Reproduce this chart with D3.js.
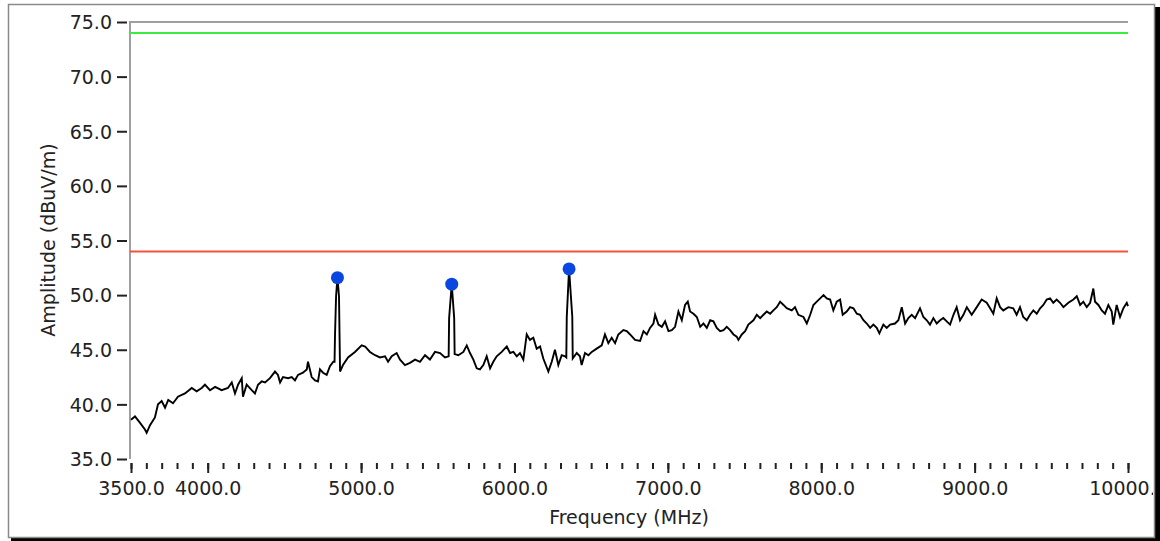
<!DOCTYPE html>
<html>
<head>
<meta charset="utf-8">
<script src="https://cdn.jsdelivr.net/npm/d3@7"></script>
<style>
  html, body { margin: 0; padding: 0; background: #ffffff; }
  svg { display: block; }
  text { font-family: "DejaVu Sans", Verdana, sans-serif; fill: #222; }
</style>
</head>
<body>
<svg id="chart" width="1160" height="541"></svg>
<script>
// Swept emission scan: frequency (MHz) and measured amplitude (dBuV/m)
const freqMHz = [
  3500,3526,3559,3591,3602,3624,3656,3676,3700,3722,3743,3774,3806,3852,3896,3928,3961,3982,
  4015,4048,4091,4132,4157,4178,4198,4222,4230,4254,4287,4308,4328,4352,4374,4406,4439,4458,
  4472,4491,4524,4548,4569,4589,4621,4646,4654,4678,4700,4719,4732,4752,4776,4797,4819,4827,
  4830,4837,4846,4856,4863,4882,4915,4960,5004,5026,5058,5091,5123,5156,5176,5200,5232,5254,
  5286,5319,5352,5384,5417,5449,5482,5515,5547,5571,5574,5591,5607,5610,5634,5667,5689,5710,
  5732,5754,5775,5797,5819,5841,5862,5884,5917,5950,5971,5993,6015,6036,6058,6080,6101,6123,
  6145,6167,6188,6221,6243,6264,6286,6308,6330,6338,6341,6356,6377,6380,6406,6427,6438,6460,
  6482,6504,6536,6569,6590,6612,6634,6656,6677,6710,6732,6754,6786,6819,6841,6863,6884,6906,
  6917,6939,6961,6982,7004,7026,7047,7069,7091,7112,7130,7145,7167,7189,7211,7232,7254,7276,
  7297,7319,7341,7363,7384,7406,7428,7449,7460,7482,7504,7525,7558,7580,7602,7623,7645,7667,
  7688,7710,7732,7754,7775,7808,7829,7851,7884,7906,7928,7949,7971,7993,8015,8036,8058,8079,
  8101,8123,8140,8166,8188,8210,8232,8253,8275,8297,8319,8340,8362,8379,8405,8427,8449,8481,
  8503,8525,8547,8568,8590,8612,8644,8666,8688,8709,8731,8753,8775,8796,8818,8840,8862,8883,
  8905,8927,8949,8981,9014,9046,9079,9101,9122,9144,9166,9187,9220,9252,9274,9296,9317,9340,
  9361,9383,9405,9427,9448,9470,9492,9513,9535,9557,9579,9611,9644,9666,9688,9709,9731,9753,
  9774,9785,9807,9829,9850,9872,9894,9904,9926,9948,9970,9992,10000
];
const amplitude = [
  38.6,38.9,38.3,37.7,37.4,38.1,38.8,40.0,40.3,39.7,40.4,40.1,40.7,41.0,41.5,41.2,41.5,41.8,
  41.3,41.6,41.3,41.5,42.0,41.0,41.8,42.4,40.7,41.8,41.3,41.0,41.8,42.1,42.0,42.4,43.0,42.7,
  42.0,42.5,42.4,42.5,42.2,42.7,42.9,43.2,43.9,42.5,42.2,42.1,43.2,42.9,42.7,43.5,43.9,43.9,
  46.3,49.9,51.6,49.9,43.0,43.6,44.3,44.8,45.4,45.3,44.8,44.5,44.3,44.4,43.9,44.4,44.7,44.1,
  43.6,43.8,44.1,43.9,44.5,44.1,44.8,44.7,44.3,44.4,47.9,51.0,47.9,44.6,44.5,44.8,45.4,44.7,
  44.1,43.3,43.2,43.6,44.4,43.3,43.9,44.4,44.8,45.3,44.7,44.8,44.4,44.7,44.1,46.4,45.9,46.1,
  45.1,45.3,44.2,43.0,43.9,45.0,43.6,44.5,44.4,44.3,48.0,52.4,48.0,44.2,44.7,44.4,43.6,44.7,
  44.5,44.8,45.1,45.4,46.4,45.6,46.1,45.6,46.4,46.8,46.7,46.4,45.9,45.8,46.7,46.4,47.0,47.4,
  48.2,47.3,47.1,47.6,46.7,46.8,47.1,48.5,47.7,49.1,49.4,48.5,48.3,48.0,47.1,47.4,47.0,47.7,
  47.6,47.0,46.7,46.8,47.1,46.8,46.4,46.2,45.9,46.4,46.7,47.3,47.7,48.2,47.9,48.2,48.5,48.3,
  48.6,48.9,49.4,49.1,48.8,48.6,48.9,48.2,48.0,47.4,48.2,49.1,49.4,49.7,50.0,49.7,49.6,48.6,
  49.4,49.6,48.2,48.5,48.9,48.8,48.3,48.2,47.7,47.4,47.0,47.3,47.0,46.5,47.3,47.0,47.3,47.4,
  47.7,48.9,47.4,47.9,48.2,47.9,48.8,48.0,47.7,47.3,47.9,47.4,47.7,47.9,47.6,47.3,48.2,48.9,
  47.7,48.2,48.9,48.2,48.9,49.6,49.3,48.8,48.3,49.7,48.9,48.6,48.9,48.8,48.2,48.9,48.0,47.7,
  48.2,48.6,48.3,48.8,49.1,49.6,49.7,49.3,49.6,49.3,48.9,49.3,49.6,49.9,49.1,49.4,48.9,49.3,
  50.6,49.4,49.1,48.6,48.3,49.1,48.5,47.3,49.1,48.0,48.8,49.3,49.0
];

// Detected peaks
const peakFreqMHz = [4846, 5591, 6356];
const peakAmplitude = [51.6, 51.0, 52.4];

// Reference levels
const limitLevels = [75.0, 74.0, 54.0];
const limitColors = ["#a0a0a0", "#3cec3c", "#f4523e"];

// Axis ticks
const yTicks = [35, 40, 45, 50, 55, 60, 65, 70, 75];
const xMajorTicks = [3500, 4000, 5000, 6000, 7000, 8000, 9000, 10000];
const xMinorTicks = d3.range(3500, 10001, 100);

const svg = d3.select("#chart");

// Panel frame with a dark drop edge on the right and bottom
svg.append("rect").attr("x", 11).attr("y", 537).attr("width", 1149).attr("height", 4).attr("fill", "#000");
svg.append("rect").attr("x", 1155).attr("y", 7).attr("width", 5).attr("height", 534).attr("fill", "#000");
svg.append("rect").attr("x", 8.5).attr("y", 4.5).attr("width", 1146).attr("height", 533)
  .attr("fill", "#fff").attr("stroke", "#8a8a8a").attr("stroke-width", 1.5);

svg.append("clipPath").attr("id", "panelClip")
  .append("rect").attr("x", 9).attr("y", 5).attr("width", 1144).attr("height", 531);

const g = svg.append("g").attr("clip-path", "url(#panelClip)");

const x = d3.scaleLinear().domain([3500, 10000]).range([131, 1128]);
const y = d3.scaleLinear().domain([35, 75]).range([459, 22]);

// Y axis
const yAxis = d3.axisLeft(y).tickValues(yTicks).tickSize(10).tickPadding(5)
  .tickFormat(d3.format(".1f"));
const yG = g.append("g").attr("transform", "translate(127,0)").call(yAxis);
yG.select(".domain").remove();
yG.selectAll(".tick line").attr("stroke", "#222").attr("stroke-width", 2);
yG.selectAll(".tick text").attr("font-size", 19).attr("fill", "#222")
  .attr("font-family", "DejaVu Sans, Verdana, sans-serif").attr("dy", "0.36em");

// X axis: minor ticks every 100 MHz, labelled major ticks
const xMinor = d3.axisBottom(x).tickValues(xMinorTicks).tickSize(6).tickFormat("");
const xMinG = g.append("g").attr("transform", "translate(0,463)").call(xMinor);
xMinG.select(".domain").remove();
xMinG.selectAll(".tick line").attr("stroke", "#222").attr("stroke-width", 2);

const xAxis = d3.axisBottom(x).tickValues(xMajorTicks).tickSize(10).tickFormat(d3.format(".1f"));
const xG = g.append("g").attr("transform", "translate(0,463)").call(xAxis);
xG.select(".domain").remove();
xG.selectAll(".tick line").attr("stroke", "#222").attr("stroke-width", 2);
xG.selectAll(".tick text").attr("font-size", 19).attr("fill", "#222")
  .attr("font-family", "DejaVu Sans, Verdana, sans-serif")
  .attr("y", 32).attr("dy", null);

// Axis titles
g.append("text").attr("x", 629).attr("y", 524).attr("text-anchor", "middle")
  .attr("font-size", 19).text("Frequency (MHz)");
g.append("text").attr("transform", "translate(55,240) rotate(-90)").attr("text-anchor", "middle")
  .attr("font-size", 19).text("Amplitude (dBuV/m)");

// Vertical axis line
g.append("line").attr("x1", 130).attr("x2", 130).attr("y1", y(75) - 1).attr("y2", y(35))
  .attr("stroke", "#a0a0a0").attr("stroke-width", 2);

// Limit lines
g.selectAll(".limit").data(limitLevels).join("line").attr("class", "limit")
  .attr("x1", x(3500) - 1).attr("x2", x(10000))
  .attr("y1", d => y(d)).attr("y2", d => y(d))
  .attr("stroke", (d, i) => limitColors[i]).attr("stroke-width", 2);

// Measured trace
const trace = freqMHz.map((f, i) => [f, amplitude[i]]);
g.append("path").datum(trace)
  .attr("fill", "none").attr("stroke", "#000").attr("stroke-width", 1.9)
  .attr("stroke-linejoin", "miter")
  .attr("d", d3.line().x(d => x(d[0])).y(d => y(d[1])));

// Peak markers
g.selectAll(".peak").data(peakFreqMHz).join("circle").attr("class", "peak")
  .attr("cx", d => x(d)).attr("cy", (d, i) => y(peakAmplitude[i])).attr("r", 6.5)
  .attr("fill", "#0a46e0");
</script>
</body>
</html>
